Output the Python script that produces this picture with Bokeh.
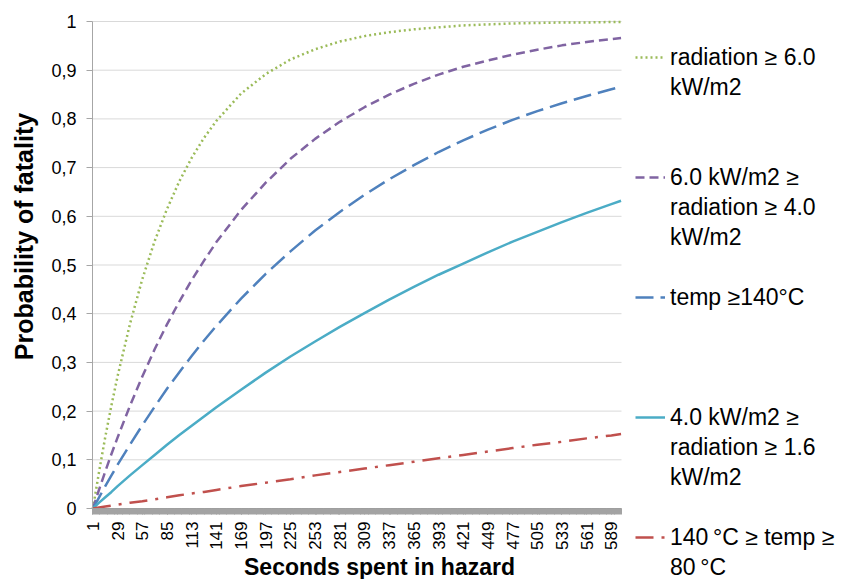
from math import pi
from bokeh.plotting import figure
from bokeh.models import Range1d, FixedTicker, Legend, LegendItem, Label
from bokeh.core.properties import value
from bokeh.embed import file_html
from bokeh.resources import INLINE

# ---------------- data ----------------
seconds = [1, 8, 15, 22, 29, 43, 57, 71, 85, 99, 113, 127, 141, 169, 197,
           225, 253, 281, 309, 337, 365, 393, 421, 449, 477, 505, 533, 561, 589, 600]

rad_6 = [0, 0.076, 0.147, 0.212, 0.272, 0.379, 0.471, 0.549, 0.615, 0.672,
         0.720, 0.761, 0.796, 0.852, 0.892, 0.922, 0.943, 0.959, 0.970, 0.978,
         0.984, 0.988, 0.992, 0.994, 0.996, 0.997, 0.998, 0.998, 0.999, 0.999]
rad_4_6 = [0, 0.039, 0.076, 0.112, 0.146, 0.211, 0.271, 0.327, 0.378, 0.425,
           0.469, 0.509, 0.547, 0.613, 0.669, 0.718, 0.759, 0.794, 0.824, 0.850,
           0.872, 0.891, 0.907, 0.920, 0.932, 0.942, 0.951, 0.958, 0.964, 0.966]
temp_140 = [0, 0.023, 0.046, 0.068, 0.090, 0.131, 0.171, 0.209, 0.246, 0.280,
            0.313, 0.345, 0.375, 0.431, 0.482, 0.528, 0.571, 0.609, 0.644, 0.676,
            0.705, 0.732, 0.756, 0.778, 0.798, 0.816, 0.832, 0.847, 0.861, 0.866]
rad_16_4 = [0, 0.012, 0.023, 0.034, 0.046, 0.068, 0.089, 0.110, 0.131, 0.151,
            0.170, 0.189, 0.208, 0.244, 0.279, 0.312, 0.343, 0.373, 0.401, 0.429,
            0.455, 0.480, 0.503, 0.526, 0.548, 0.568, 0.588, 0.607, 0.625, 0.632]
temp_80_140 = [0, 0.002, 0.004, 0.006, 0.008, 0.012, 0.015, 0.019, 0.023, 0.027,
               0.031, 0.034, 0.038, 0.046, 0.053, 0.060, 0.068, 0.075, 0.082, 0.089,
               0.096, 0.103, 0.110, 0.117, 0.124, 0.131, 0.137, 0.144, 0.150, 0.153]

categories = list(range(1, 601))
x_tick_values = [1, 29, 57, 85, 113, 141, 169, 197, 225, 253, 281, 309, 337,
                 365, 393, 421, 449, 477, 505, 533, 561, 589]
y_tick_values = [0, 0.1, 0.2, 0.3, 0.4, 0.5, 0.6, 0.7, 0.8, 0.9, 1.0]
y_tick_labels = ["0", "0,1", "0,2", "0,3", "0,4", "0,5", "0,6", "0,7", "0,8", "0,9", "1"]

series_names = [
    ["radiation \u2265 6.0", "kW/m2"],
    ["6.0 kW/m2 \u2265", "radiation \u2265 4.0", "kW/m2"],
    ["temp \u2265140\u00b0C"],
    ["4.0 kW/m2 \u2265", "radiation \u2265 1.6", "kW/m2"],
    ["140\u2009\u00b0C \u2265 temp \u2265", "80\u2009\u00b0C"],
]
series_values = [rad_6, rad_4_6, temp_140, rad_16_4, temp_80_140]
series_colors = ["#9BBB59", "#8064A2", "#4F81BD", "#4BACC6", "#C0504D"]
series_dash = ["2 3", "9 5", "18 7", "solid", "18 8 3 8"]
x_title = "Seconds spent in hazard"
y_title = "Probability of fatality"

# ---------------- layout constants (pixels) ----------------
FONT = "Liberation Sans"
W, H = 846, 579
PL, PR, PT, PB = 92, 621, 21, 508      # plot-area edges inside the canvas
X0, X1 = 0.5, 600.5                     # category axis extent
Y0, Y1 = 0.0, 1.0
kx = (X1 - X0) / (PR - PL)
ky = (Y1 - Y0) / (PB - PT)

# the drawing frame covers the whole canvas; axes are pinned inside it
p = figure(width=W, height=H,
           x_range=Range1d(X0 - PL * kx, X1 + (W - PR) * kx),
           y_range=Range1d(Y0 - (H - PB) * ky, Y1 + PT * ky),
           output_backend="svg", toolbar_location=None, min_border=0)
p.outline_line_color = None
p.grid.grid_line_color = None

# horizontal gridlines limited to the plot area
p.segment(x0=[X0] * len(y_tick_values), x1=[X1] * len(y_tick_values),
          y0=y_tick_values, y1=y_tick_values,
          line_color="#d9d9d9", line_width=1, level="underlay")

yax = p.yaxis[0]
yax.fixed_location = X0
yax.bounds = (Y0, Y1)
yax.ticker = FixedTicker(ticks=y_tick_values)
yax.major_label_overrides = dict(zip(y_tick_values, y_tick_labels))
yax.axis_line_color = "#a6a6a6"
yax.major_tick_line_color = "#a6a6a6"
yax.major_tick_out = 6
yax.major_tick_in = 0
yax.minor_tick_line_color = None
yax.major_label_standoff = 10
yax.major_label_text_font = FONT
yax.major_label_text_font_size = "18px"
yax.major_label_text_color = "#000000"

xax = p.xaxis[0]
xax.fixed_location = Y0
xax.bounds = (X0, X1)
xax.ticker = FixedTicker(ticks=x_tick_values, minor_ticks=categories)
xax.axis_line_color = "#9a9a9a"
xax.major_tick_line_color = "#9a9a9a"
xax.major_tick_out = 6
xax.major_tick_in = 0
xax.minor_tick_line_color = "#a3a3a3"
xax.minor_tick_out = 6
xax.minor_tick_in = 0
xax.major_label_orientation = pi / 2
xax.major_label_standoff = 7
xax.major_label_text_font = FONT
xax.major_label_text_font_size = "17px"
xax.major_label_text_color = "#000000"

renderers = []
for vals, col, dash in zip(series_values, series_colors, series_dash):
    renderers.append(p.line(seconds, vals, line_color=col, line_width=2.5, line_dash=dash))

# axis titles (screen units measured from the frame's bottom-left = canvas here)
p.add_layout(Label(x=23, y=H - 236, x_units="screen", y_units="screen",
                   text=y_title, angle=pi / 2,
                   text_align="center", text_baseline="middle",
                   text_font=FONT, text_font_style="bold", text_font_size="25px",
                   text_color="#000000"))
p.add_layout(Label(x=379, y=H - 566, x_units="screen", y_units="screen",
                   text=x_title, text_align="center", text_baseline="middle",
                   text_font=FONT, text_font_style="bold", text_font_size="23px",
                   text_color="#000000"))

# ---------------- legend: one row per text line, rows 30 px apart ----------------
blank = p.line([], [], line_alpha=0)
item_first_row = [0, 4, 8, 12, 16]
n_rows = 18
row_h = 30
rows = [LegendItem(label=value(" "), renderers=[blank]) for _ in range(n_rows)]
for names, r0, rend in zip(series_names, item_first_row, renderers):
    for i, name in enumerate(names):
        rows[r0 + i] = LegendItem(label=value(name), renderers=[rend if i == 0 else blank])

legend_top = 42
legend = Legend(items=rows, location=(635, H - (legend_top + n_rows * row_h)),
                orientation="vertical", spacing=0, padding=0, margin=0,
                label_height=row_h, glyph_height=row_h, glyph_width=30, label_standoff=5,
                label_text_font=FONT, label_text_font_size="23px",
                label_text_color="#000000", label_text_baseline="middle",
                border_line_color=None, background_fill_alpha=0)
p.add_layout(legend, "center")

open("out.html", "w").write(file_html(p, INLINE))
